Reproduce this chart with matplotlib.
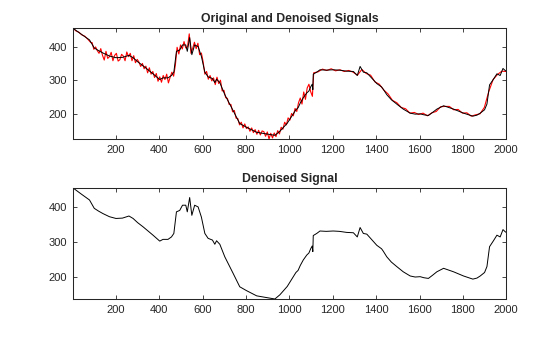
from __future__ import annotations

import matplotlib

matplotlib.use("Agg")
import matplotlib.pyplot as plt
import numpy as np


# Denoised signal, read as (sample, value) knots
DENOISED_X = [
	1, 40, 78, 100, 120, 140, 170, 200, 230, 260, 279, 300, 325, 350, 371, 402, 417, 440, 456,
	467, 479, 494, 507, 522, 529, 540, 550, 563, 579, 594, 610, 625, 645, 656, 664, 679,
	702, 740, 771, 802, 849, 895, 933, 956, 990, 1018, 1030, 1040, 1050, 1064, 1080, 1090,
	1098, 1105, 1108, 1110, 1126, 1141, 1170, 1202, 1230, 1264, 1295, 1313, 1326, 1341,
	1357, 1380, 1403, 1425, 1433, 1449, 1470, 1495, 1525, 1557, 1580, 1603, 1620, 1641,
	1660, 1680, 1711, 1757, 1803, 1846, 1865, 1880, 1900, 1911, 1923, 1941, 1957, 1972,
	1985, 1995, 2000,
]
DENOISED_Y = [
	455, 437, 420, 396, 388, 381, 372, 367, 368, 374, 367, 355, 343, 330, 319, 302, 307, 307, 314,
	324, 386, 390, 405, 405, 386, 427, 376, 405, 400, 371, 324, 310, 305, 293, 303, 293,
	257, 210, 171, 160, 145, 140, 136, 148, 172, 200, 212, 218, 232, 248, 262, 268,
	280, 288, 272, 318, 324, 331, 330, 331, 330, 327, 326, 314, 341, 324,
	322, 306, 290, 280, 273, 257, 242, 229, 214, 202, 199, 200, 197, 195,
	204, 214, 224, 214, 202, 193, 196, 202, 212, 229, 286, 303, 319, 314,
	335, 329, 327,
]

# Original (noisy) signal, three stretches of evenly spaced samples
ORIGINAL_HEAD = [456, 447, 443, 435, 431, 422, 412]  # samples 1..84
ORIGINAL_MID = [  # samples 90..1106, every 8th
	412, 392, 399, 388, 380, 394, 374, 360,
	386, 365, 370, 383, 358, 374, 380, 357,
	361, 377, 372, 358, 384, 370, 380, 358,
	373, 352, 362, 354, 341, 350, 334, 342,
	322, 337, 318, 326, 308, 320, 297, 310,
	294, 314, 302, 318, 292, 309, 324, 312,
	345, 398, 378, 405, 393, 415, 396, 399,
	438, 380, 395, 413, 394, 410, 376, 381,
	355, 318, 326, 303, 314, 298, 307, 287,
	309, 290, 300, 268, 270, 248, 246, 228,
	228, 206, 210, 187, 186, 167, 175, 158,
	170, 156, 161, 148, 158, 144, 153, 139,
	151, 137, 149, 147, 133, 146, 125, 142,
	128, 143, 132, 150, 140, 160, 154, 175,
	167, 188, 181, 201, 194, 216, 207, 233,
	247, 229, 265, 243, 277, 288, 266, 252,
]
ORIGINAL_TAIL = [  # samples 1112..2000
	322, 325, 333, 329, 334, 328, 331, 326, 329, 324, 315, 332, 320, 315, 295,
	288, 271, 259, 240, 233, 219, 215, 202, 204, 198, 202, 194, 203, 207, 221,
	222, 222, 212, 213, 202, 203, 193, 197, 200, 219, 266, 302, 317, 327, 326,
]

X_TICKS = list(range(200, 2001, 200))
Y_TICKS = [200, 300, 400]

TEXT_COLOR = "#262626"


def _original_series() -> tuple[np.ndarray, np.ndarray]:
	x = np.concatenate([
		np.linspace(1, 84, len(ORIGINAL_HEAD)),
		90 + 8 * np.arange(len(ORIGINAL_MID)),
		np.linspace(1112, 2000, len(ORIGINAL_TAIL)),
	])
	y = np.array(ORIGINAL_HEAD + ORIGINAL_MID + ORIGINAL_TAIL, dtype=float)
	return x, y


def _style_axes(ax: plt.Axes, y: np.ndarray) -> None:
	ax.set_xlim(1, 2000)
	ax.set_ylim(y.min(), y.max())
	ax.set_xticks(X_TICKS)
	ax.set_yticks(Y_TICKS)
	ax.tick_params(
		direction="in", length=3, width=0.6, colors=TEXT_COLOR, labelsize=8,
		top=True, right=True, pad=4,
	)
	for spine in ax.spines.values():
		spine.set_color(TEXT_COLOR)
		spine.set_linewidth(0.75)


def main() -> None:
	plt.rcParams["font.family"] = ["Liberation Sans", "DejaVu Sans"]

	fig = plt.figure(figsize=(5.6, 3.37), dpi=100)
	ax_top = fig.add_axes([0.130, 0.5875, 0.774, 0.330])
	ax_bot = fig.add_axes([0.130, 0.1128, 0.774, 0.330])

	orig_x, orig_y = _original_series()
	den_x = np.array(DENOISED_X, dtype=float)
	den_y = np.array(DENOISED_Y, dtype=float)

	ax_top.plot(orig_x, orig_y, color="red", linewidth=0.8)
	ax_top.plot(den_x, den_y, color="black", linewidth=0.7)
	_style_axes(ax_top, np.concatenate([orig_y, den_y]))
	ax_top.set_title("Original and Denoised Signals", fontsize=8.8, fontweight="bold",
		color=TEXT_COLOR, pad=4)

	ax_bot.plot(den_x, den_y, color="black", linewidth=0.7)
	_style_axes(ax_bot, den_y)
	ax_bot.set_title("Denoised Signal", fontsize=8.8, fontweight="bold",
		color=TEXT_COLOR, pad=4)

	fig.savefig("out.png", dpi=100)
	plt.close(fig)


if __name__ == "__main__":
	main()
